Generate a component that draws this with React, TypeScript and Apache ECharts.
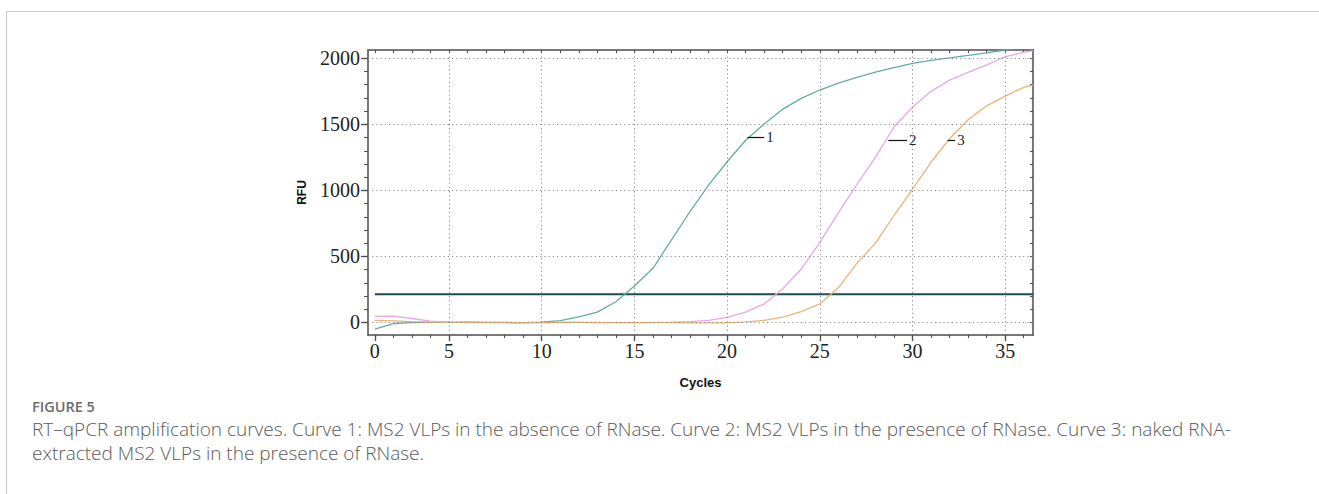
import React, { useEffect, useRef } from "react";
import * as echarts from "echarts";

// ---- data ----
const cycles = [1, 2, 3, 4, 5, 6, 7, 8, 9, 10, 11, 12, 13, 14, 15, 16, 17, 18, 19, 20, 21, 22, 23, 24, 25, 26, 27, 28, 29, 30, 31, 32, 33, 34, 35, 36, 36.5];
const curve1 = [-50, -8, -2, 0, 1, 2, 1, 0, -1, 2, 14, 42, 78, 157, 276, 410, 625, 840, 1040, 1217, 1380, 1503, 1615, 1697, 1760, 1812, 1855, 1895, 1930, 1962, 1985, 2003, 2022, 2042, 2063, 2085, 2095];
const curve2 = [45, 48, 30, 10, 2, 0, 0, -2, -3, -2, 0, 1, 0, -2, -2, 0, 2, 6, 16, 39, 78, 140, 255, 405, 605, 830, 1045, 1250, 1480, 1630, 1750, 1835, 1893, 1950, 2012, 2045, 2057];
const curve3 = [15, 12, 6, 2, 0, 0, -1, -2, -2, -1, 0, 0, -1, -2, -2, -2, -2, -3, -3, -3, 4, 16, 40, 82, 140, 262, 447, 601, 808, 1010, 1213, 1391, 1535, 1640, 1714, 1780, 1798];
const threshold = 213;

const xTickValues = [1, 5, 10, 15, 20, 25, 30, 35];
const xTickLabels = ["0", "5", "10", "15", "20", "25", "30", "35"];
const xGridValues = [5, 10, 15, 20, 25, 30, 35];
const xMinorTicks = [1, 2, 3, 4, 5, 6, 7, 8, 9, 10, 11, 12, 13, 14, 15, 16, 17, 18, 19, 20, 21, 22, 23, 24, 25, 26, 27, 28, 29, 30, 31, 32, 33, 34, 35, 36];
const yTickValues = [0, 500, 1000, 1500, 2000];
const yTickLabels = ["0", "500", "1000", "1500", "2000"];
const yMinorTicks = [0, 100, 200, 300, 400, 500, 600, 700, 800, 900, 1000, 1100, 1200, 1300, 1400, 1500, 1600, 1700, 1800, 1900, 2000];

// curve label callouts: [label, xStart, xEnd, y]
const callouts: [string, number, number, number][] = [
  ["1", 21.1, 22.0, 1402],
  ["2", 28.7, 29.7, 1381],
  ["3", 31.9, 32.3, 1381],
];

const captionTitle = "FIGURE 5";
const captionLine1 =
  "RT\u2013qPCR amplification curves. Curve 1: MS2 VLPs in the absence of RNase. Curve 2: MS2 VLPs in the presence of RNase. Curve 3: naked RNA-";
const captionLine2 = "extracted MS2 VLPs in the presence of RNase.";

const X_MIN = 0.63;
const X_MAX = 36.5;
const Y_MIN = -95;
const Y_MAX = 2063;

const AXIS_COLOR = "#4d4d4d";
const SERIF = "'Liberation Serif', 'DejaVu Serif', serif";
const SANS = "'Liberation Sans', Arial, sans-serif";
const CAPTION_FONT = "'Open Sans', 'Noto Sans', sans-serif";

export default function App() {
  const ref = useRef<HTMLDivElement>(null);

  useEffect(() => {
    document.body.style.margin = "0";
    const chart = echarts.init(ref.current!, null, { renderer: "svg" });

    const curveColors = ["#62ada3", "#e7a8e8", "#eab477"];
    const curves = [curve1, curve2, curve3];

    const curveSeries = curves.map((vals, i) => ({
      type: "line",
      name: "Curve " + (i + 1),
      xAxisIndex: 0,
      yAxisIndex: 0,
      data: cycles.map((c, j) => [c, vals[j]]),
      showSymbol: false,
      symbol: "none",
      z: 3,
      lineStyle: { color: curveColors[i], width: 1.3 },
      markLine: {
        silent: true,
        symbol: ["none", "none"],
        animation: false,
        lineStyle: { color: "#111", width: 1.2, type: "solid" },
        label: {
          show: true,
          position: "end",
          distance: 2,
          formatter: callouts[i][0],
          fontFamily: SERIF,
          fontSize: 15,
          color: "#222",
        },
        data: [
          [
            { coord: [callouts[i][1], callouts[i][3]] },
            { coord: [callouts[i][2], callouts[i][3]] },
          ],
        ],
      },
    }));

    const option: any = {
      animation: false,
      backgroundColor: "#ffffff",
      grid: { left: 368, right: 286, top: 50, bottom: 159, containLabel: false },
      xAxis: [
        {
          type: "value",
          position: "bottom",
          min: X_MIN,
          max: X_MAX,
          axisLine: { show: true, onZero: false, lineStyle: { color: AXIS_COLOR, width: 1.5 } },
          axisTick: { show: true, customValues: xTickValues, length: 6, lineStyle: { color: AXIS_COLOR, width: 1.3 } },
          axisLabel: {
            show: true,
            customValues: xTickValues,
            formatter: (v: number) => {
              const k = xTickValues.indexOf(v);
              return k >= 0 ? xTickLabels[k] : "";
            },
            fontFamily: SERIF,
            fontSize: 20,
            color: "#222",
            margin: 6,
          },
          splitLine: { show: false },
          name: "Cycles",
          nameLocation: "middle",
          nameGap: 41,
          nameTextStyle: { fontFamily: SANS, fontWeight: "bold", fontSize: 13, color: "#111" },
        },
        {
          type: "value",
          position: "bottom",
          min: X_MIN,
          max: X_MAX,
          axisLine: { show: false, onZero: false },
          axisTick: { show: true, customValues: xMinorTicks, length: 3, lineStyle: { color: AXIS_COLOR, width: 1.1 } },
          axisLabel: { show: false },
          splitLine: { show: false },
        },
        {
          type: "value",
          position: "top",
          min: X_MIN,
          max: X_MAX,
          axisLine: { show: true, onZero: false, lineStyle: { color: AXIS_COLOR, width: 1.5 } },
          axisTick: { show: true, inside: true, customValues: xMinorTicks, length: 3, lineStyle: { color: AXIS_COLOR, width: 1.1 } },
          axisLabel: { show: false },
          splitLine: { show: false },
        },
      ],
      yAxis: [
        {
          type: "value",
          position: "left",
          min: Y_MIN,
          max: Y_MAX,
          axisLine: { show: true, onZero: false, lineStyle: { color: AXIS_COLOR, width: 1.5 } },
          axisTick: { show: true, customValues: yTickValues, length: 7, lineStyle: { color: AXIS_COLOR, width: 1.3 } },
          axisLabel: {
            show: true,
            customValues: yTickValues,
            formatter: (v: number) => {
              const k = yTickValues.indexOf(v);
              return k >= 0 ? yTickLabels[k] : "";
            },
            fontFamily: SERIF,
            fontSize: 20,
            color: "#222",
            margin: 8,
          },
          splitLine: { show: false },
          name: "RFU",
          nameLocation: "middle",
          nameGap: 60,
          nameRotate: 90,
          nameTextStyle: { fontFamily: SANS, fontWeight: "bold", fontSize: 12, color: "#111" },
        },
        {
          type: "value",
          position: "left",
          min: Y_MIN,
          max: Y_MAX,
          axisLine: { show: false, onZero: false },
          axisTick: { show: true, customValues: yMinorTicks, length: 4, lineStyle: { color: AXIS_COLOR, width: 1.1 } },
          axisLabel: { show: false },
          splitLine: { show: false },
        },
        {
          type: "value",
          position: "right",
          min: Y_MIN,
          max: Y_MAX,
          axisLine: { show: true, onZero: false, lineStyle: { color: AXIS_COLOR, width: 1.5 } },
          axisTick: { show: true, inside: true, customValues: yMinorTicks, length: 3, lineStyle: { color: AXIS_COLOR, width: 1.1 } },
          axisLabel: { show: false },
          splitLine: { show: false },
        },
      ],
      series: [
        {
          type: "line",
          name: "Threshold",
          xAxisIndex: 0,
          yAxisIndex: 0,
          data: [
            [1, threshold],
            [X_MAX, threshold],
          ],
          showSymbol: false,
          symbol: "none",
          z: 2,
          lineStyle: { color: "#1f4b57", width: 2 },
          markLine: {
            silent: true,
            symbol: ["none", "none"],
            animation: false,
            label: { show: false },
            lineStyle: { color: "#8a8a8a", width: 1, type: [1.2, 3] },
            data: [
              ...xGridValues.map((v) => ({ xAxis: v })),
              ...yTickValues.map((v) => ({ yAxis: v })),
            ],
          },
        },
        ...curveSeries,
      ],
      graphic: [
        {
          type: "polyline",
          silent: true,
          shape: { points: [[6.5, 494], [6.5, 11.5], [1319, 11.5]] },
          style: { stroke: "#cccccc", lineWidth: 1.2, fill: null },
        },
        {
          type: "text",
          x: 32,
          y: 406,
          style: {
            text: captionTitle,
            fontFamily: CAPTION_FONT,
            fontSize: 14.5,
            fontWeight: 600,
            lineHeight: 17,
            fill: "#6b6b6b",
            verticalAlign: "middle",
          },
        },
        {
          type: "text",
          x: 32,
          y: 429,
          style: {
            text: captionLine1,
            fontFamily: CAPTION_FONT,
            fontSize: 19,
            fontWeight: 300,
            lineHeight: 21,
            fill: "#5a5a5a",
            verticalAlign: "middle",
          },
        },
        {
          type: "text",
          x: 32,
          y: 453,
          style: {
            text: captionLine2,
            fontFamily: CAPTION_FONT,
            fontSize: 19,
            fontWeight: 300,
            lineHeight: 21,
            fill: "#5a5a5a",
            verticalAlign: "middle",
          },
        },
      ],
    };

    chart.setOption(option);
    return () => chart.dispose();
  }, []);

  return <div ref={ref} style={{ position: "absolute", left: 0, top: 0, width: 1319, height: 494 }} />;
}
